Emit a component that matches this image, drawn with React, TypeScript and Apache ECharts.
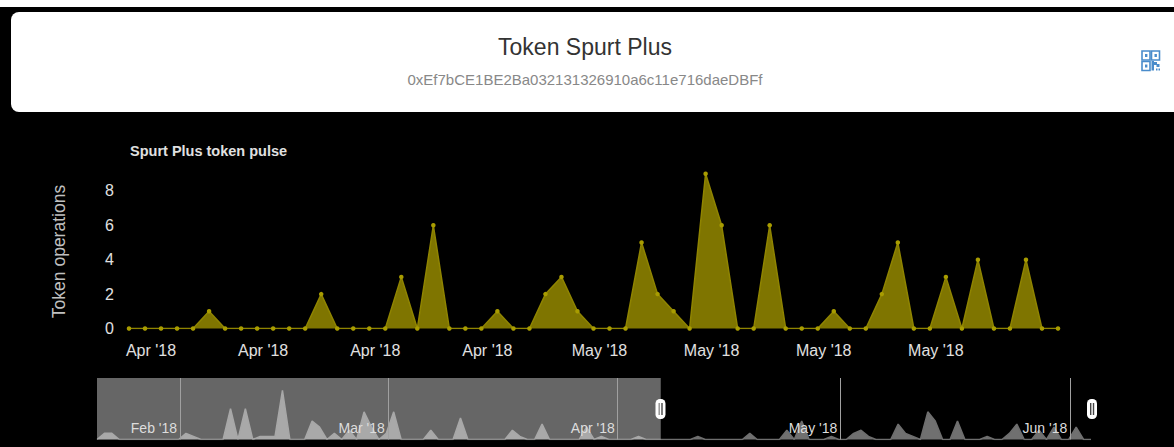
import React, { useEffect, useRef } from "react";
import * as echarts from "echarts";

const pageTitle = "Token Spurt Plus";
const tokenAddress = "0xEf7bCE1BE2Ba032131326910a6c11e716daeDBFf";
const chartTitle = "Spurt Plus token pulse";
const yAxisName = "Token operations";

// Daily token operations in the selected range (59 days)
const mainLabels = ["Apr '18", "Apr '18", "Apr '18", "Apr '18", "May '18", "May '18", "May '18", "May '18"];
const mainValues = [
  0, 0, 0, 0, 0, 1, 0, 0, 0, 0, 0, 0, 2, 0, 0, 0, 0, 3, 0, 6,
  0, 0, 0, 1, 0, 0, 2, 3, 1, 0, 0, 0, 5, 2, 1, 0, 9, 6, 0, 0,
  6, 0, 0, 0, 1, 0, 0, 2, 5, 0, 0, 3, 0, 4, 0, 0, 4, 0, 0,
];
// Daily token operations before the selected range, navigator only (76 days)
const earlierValues = [
  0, 2, 2, 0, 0, 0, 0, 0, 0, 0, 0, 0, 2, 1, 0, 0, 0, 0, 10, 0,
  10, 0, 1, 1, 1, 16, 0, 0, 0, 6, 4, 0, 2, 0, 3, 0, 9, 4, 0, 2,
  9, 0, 0, 0, 0, 3, 0, 0, 0, 7, 0, 0, 0, 0, 0, 0, 3, 1, 0, 0,
  5, 0, 0, 0, 0, 0, 4, 0, 1, 0, 0, 0, 0, 1, 0, 0,
];
const navValues = [...earlierValues, ...mainValues];
const navTickDays = [11.2, 39.2, 70.2, 100.2, 131.2];
const navTickLabels = ["Feb '18", "Mar '18", "Apr '18", "May '18", "Jun '18"];
const selectionStartDay = earlierValues.length;

const FONT = "Liberation Sans, Arial, sans-serif";
const QR = "#4a8ccb";

function qrSquare(x: number, y: number) {
  return [
    { type: "rect", shape: { x, y, width: 8, height: 9 }, style: { fill: "none", stroke: QR, lineWidth: 1.6 } },
    { type: "rect", shape: { x: x + 3, y: y + 3, width: 2.4, height: 3 }, style: { fill: QR } },
  ];
}

function handle(cx: number) {
  return {
    type: "group",
    z: 20,
    children: [
      { type: "rect", shape: { x: cx - 5, y: 399, width: 10, height: 20, r: 4.5 }, style: { fill: "#ffffff" } },
      { type: "rect", shape: { x: cx - 2, y: 403, width: 1.4, height: 12 }, style: { fill: "#444444" } },
      { type: "rect", shape: { x: cx + 0.8, y: 403, width: 1.4, height: 12 }, style: { fill: "#444444" } },
    ],
  };
}

export default function App() {
  const ref = useRef<HTMLDivElement>(null);
  useEffect(() => {
    document.body.style.margin = "0";
    document.body.style.background = "#000";
    const chart = echarts.init(ref.current!, undefined, { renderer: "svg" });
    const navData = navValues.map((v, i) => [i, v]);
    chart.setOption({
      animation: false,
      backgroundColor: "#000000",
      title: [
        {
          text: pageTitle,
          left: 580,
          top: 30,
          textAlign: "center",
          textStyle: { fontFamily: FONT, fontSize: 23, fontWeight: "normal", color: "#333333" },
        },
        {
          text: tokenAddress,
          left: 580,
          top: 67,
          textAlign: "center",
          textStyle: { fontFamily: FONT, fontSize: 15, fontWeight: "normal", color: "#888888" },
        },
        {
          text: chartTitle,
          left: 125,
          top: 138,
          textStyle: { fontFamily: FONT, fontSize: 14.5, fontWeight: "bold", color: "#e0e0e0" },
        },
      ],
      graphic: [
        { type: "rect", z: -10, shape: { x: 0, y: 0, width: 1174, height: 7 }, style: { fill: "#ffffff" } },
        { type: "rect", z: -10, shape: { x: 11, y: 12, width: 1175, height: 100, r: 8 }, style: { fill: "#ffffff" } },
        {
          type: "group",
          x: 1142,
          y: 51,
          z: -5,
          children: [
            ...qrSquare(0, 0),
            ...qrSquare(9.5, 0),
            ...qrSquare(0, 10.5),
            { type: "rect", shape: { x: 9.5, y: 10, width: 2.5, height: 9.5 }, style: { fill: QR } },
            { type: "rect", shape: { x: 12, y: 11, width: 3, height: 3 }, style: { fill: QR } },
            { type: "rect", shape: { x: 14.5, y: 13, width: 3, height: 3 }, style: { fill: QR } },
            { type: "rect", shape: { x: 14, y: 17.5, width: 1.5, height: 2 }, style: { fill: QR } },
            { type: "rect", shape: { x: 16.5, y: 17.5, width: 1.5, height: 2 }, style: { fill: QR } },
          ],
        },
        handle(660.5),
        handle(1092),
      ],
      grid: [
        { left: 129, right: 116, top: 156.5, height: 172 },
        { left: 97, right: 83, top: 378, height: 61.5 },
      ],
      xAxis: [
        {
          type: "category",
          gridIndex: 0,
          boundaryGap: false,
          data: mainValues.map((_, i) => mainLabels[Math.floor((i - 1) / 7)] ?? mainLabels[0]),
          axisLine: { show: false },
          axisTick: { show: false },
          splitLine: { show: false },
          axisLabel: {
            interval: (i: number) => i % 7 === 1 && i < 56,
            margin: 14,
            padding: [0, 0, 0, 12],
            color: "#e0e0e0",
            fontFamily: FONT,
            fontSize: 16,
            hideOverlap: false,
          },
        },
        {
          type: "value",
          gridIndex: 1,
          min: 0,
          max: navValues.length - 1,
          z: 5,
          splitLine: { show: false },
          axisLine: { show: false },
          axisTick: {
            show: true,
            customValues: navTickDays,
            inside: true,
            length: 61.5,
            lineStyle: { color: "#a0a0a0", width: 1 },
          },
          axisLabel: {
            show: true,
            customValues: navTickDays,
            inside: true,
            align: "right",
            margin: 5,
            padding: [0, 3, 0, 0],
            color: "#dddddd",
            fontFamily: FONT,
            fontSize: 14,
            formatter: (v: number) => navTickLabels[navTickDays.indexOf(v)] ?? "",
          },
        },
      ],
      yAxis: [
        {
          type: "value",
          gridIndex: 0,
          min: 0,
          max: 10,
          interval: 2,
          name: yAxisName,
          nameLocation: "middle",
          nameGap: 61,
          nameTextStyle: { color: "#c0c0c0", fontFamily: FONT, fontSize: 17.5, padding: [0, 18, 0, 0] },
          axisLine: { show: false },
          axisTick: { show: false },
          splitLine: { show: false },
          axisLabel: {
            margin: 15,
            color: "#e0e0e0",
            fontFamily: FONT,
            fontSize: 16,
            showMaxLabel: false,
          },
        },
        {
          type: "value",
          gridIndex: 1,
          min: 0,
          max: 20,
          show: false,
          splitLine: { show: false },
        },
      ],
      series: [
        {
          type: "line",
          name: "Token operations",
          xAxisIndex: 0,
          yAxisIndex: 0,
          data: mainValues,
          symbol: "circle",
          symbolSize: 4.5,
          showAllSymbols: true,
          showSymbol: true,
          itemStyle: { color: "#a89c00" },
          lineStyle: { color: "#8f8400", width: 1.5 },
          areaStyle: { color: "#7f7500", opacity: 1 },
        },
        {
          type: "line",
          name: "Navigator",
          xAxisIndex: 1,
          yAxisIndex: 1,
          data: navData,
          symbol: "none",
          lineStyle: { color: "#6e6e6e", width: 1.5 },
          areaStyle: { color: "#707070", opacity: 1 },
          markArea: {
            silent: true,
            z: 4,
            itemStyle: { color: "rgba(255,255,255,0.4)" },
            data: [[{ xAxis: 0 }, { xAxis: selectionStartDay }]],
          },
        },
      ],
    });
    return () => chart.dispose();
  }, []);
  return <div ref={ref} style={{ width: 1174, height: 447 }} />;
}
